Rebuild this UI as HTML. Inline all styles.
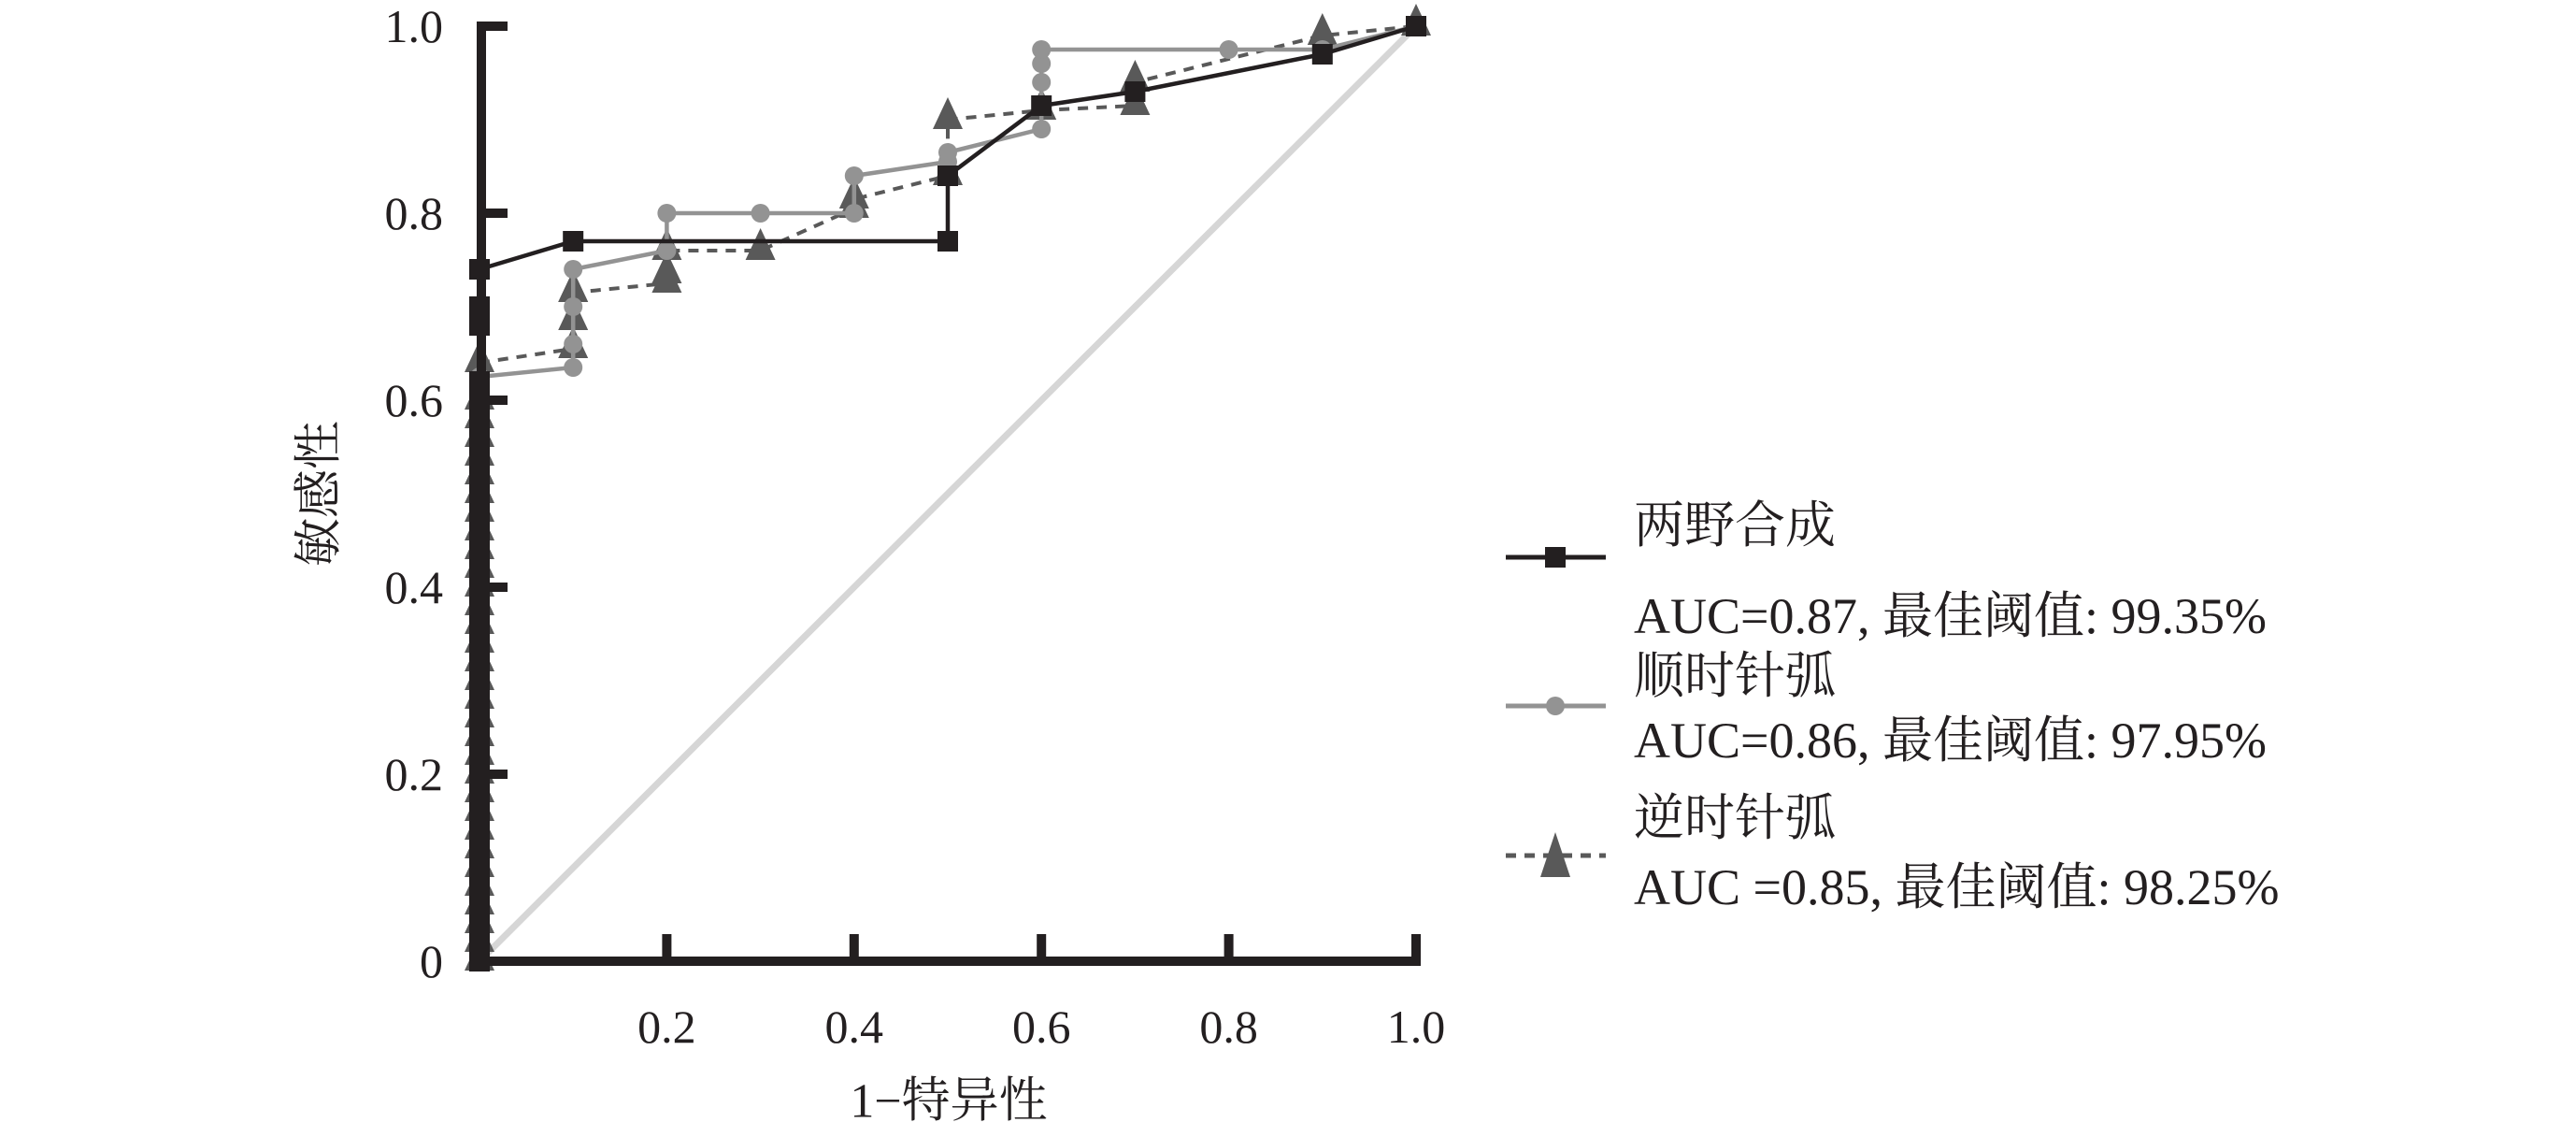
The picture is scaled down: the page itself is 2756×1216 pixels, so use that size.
<!DOCTYPE html>
<html><head><meta charset="utf-8"><style>
html,body{margin:0;padding:0;background:#fff;}
svg{display:block;}
text{font-family:"Liberation Serif","Noto Serif CJK SC",serif;fill:#231f20;}
</style></head><body>
<svg id="chart" width="2756" height="1216" viewBox="0 0 2756 1216" xmlns="http://www.w3.org/2000/svg">
<g id="plot"></g>
<g id="axes"></g>
<g id="legend">
  <line x1="1611" y1="596" x2="1718" y2="596" stroke="#231f20" stroke-width="5"/>
  <rect x="1653" y="585" width="22" height="22" fill="#231f20"/>
  <text x="1748" y="562" font-size="54" dominant-baseline="central">两野合成</text>
  <text x="1748" y="659" font-size="54" dominant-baseline="central">AUC=0.87, 最佳阈值: 99.35%</text>
  <line x1="1611" y1="755" x2="1718" y2="755" stroke="#939393" stroke-width="5"/>
  <circle cx="1664" cy="755" r="10" fill="#939393"/>
  <text x="1748" y="723" font-size="54" dominant-baseline="central">顺时针弧</text>
  <text x="1748" y="792" font-size="54" dominant-baseline="central">AUC=0.86, 最佳阈值: 97.95%</text>
  <line x1="1611" y1="915" x2="1718" y2="915" stroke="#595959" stroke-width="5" stroke-dasharray="11,9"/>
  <polygon points="1664,890 1680,938 1648,938" fill="#595959"/>
  <text x="1748" y="875" font-size="54" dominant-baseline="central">逆时针弧</text>
  <text x="1748" y="949" font-size="54" dominant-baseline="central">AUC =0.85, 最佳阈值: 98.25%</text>
</g>
</svg>
<script>
const xTicks = [0.2, 0.4, 0.6, 0.8, 1.0];
const xTickLabels = ["0.2", "0.4", "0.6", "0.8", "1.0"];
const yTicks = [0, 0.2, 0.4, 0.6, 0.8, 1.0];
const yTickLabels = ["0", "0.2", "0.4", "0.6", "0.8", "1.0"];
const stackY = [0,0.02,0.04,0.06,0.08,0.1,0.12,0.14,0.16,0.18,0.2,0.22,0.24,0.26,0.28,0.3,0.32,0.34,0.36,0.38,0.4,0.42,0.44,0.46,0.48,0.5,0.52,0.54,0.56,0.58,0.6];
const combinedX = [0,0,0,0,0,0.1,0.5,0.5,0.6,0.7,0.9,1.0];
const combinedY = [0.62,0.68,0.69,0.70,0.74,0.77,0.77,0.84,0.915,0.93,0.97,1.0];
const clockX = [0,0.1,0.1,0.1,0.1,0.2,0.2,0.3,0.4,0.4,0.5,0.5,0.6,0.6,0.6,0.6,0.8,0.9,1.0];
const clockY = [0.625,0.635,0.66,0.7,0.74,0.76,0.80,0.80,0.80,0.84,0.855,0.865,0.89,0.94,0.96,0.975,0.975,0.975,1.0];
const counterX = [0,0.1,0.1,0.1,0.1,0.2,0.2,0.2,0.3,0.4,0.4,0.5,0.5,0.6,0.7,0.7,0.9,1.0];
const counterY = [0.64,0.655,0.685,0.715,0.715,0.725,0.735,0.76,0.76,0.805,0.815,0.84,0.90,0.91,0.915,0.94,0.99,1.0];

const NS = "http://www.w3.org/2000/svg";
const X0 = 513, X1 = 1515, Y0 = 1028, Y1 = 28;
function sx(v){ return X0 + v * (X1 - X0); }
function sy(v){ return Y0 - v * (Y0 - Y1); }
const plot = document.getElementById('plot');
const axes = document.getElementById('axes');
function mk(tag, attrs, parent){
  const e = document.createElementNS(NS, tag);
  for (const k in attrs) e.setAttribute(k, attrs[k]);
  parent.appendChild(e);
  return e;
}

const diag = mk('line', {x1:sx(0), y1:sy(0), x2:sx(1), y2:sy(1), stroke:'#d6d6d6', 'stroke-width':7}, plot);



function series(name, xs, ys, color, width, dash, marker){
  const g = mk('g', {}, plot);
  
  
  const allX = stackY.map(() => 0).concat(xs);
  const allY = stackY.concat(ys);
  let d = '';
  allX.forEach((x, i) => { d += (i ? 'L' : 'M') + sx(x) + ',' + sy(allY[i]); });
  const p = mk('path', {d:d, fill:'none', stroke:color, 'stroke-width':width}, g);
  if (dash) p.setAttribute('stroke-dasharray', dash);
  
  
  allX.forEach((x, i) => {
    const cx = sx(x), cy = sy(allY[i]);
    let m;
    if (marker === 'square') m = mk('rect', {x:cx-11, y:cy-11, width:22, height:22, fill:color}, g);
    else if (marker === 'circle') m = mk('circle', {cx:cx, cy:cy, r:10, fill:color}, g);
    else m = mk('polygon', {points:(cx)+','+(cy-24)+' '+(cx+16)+','+(cy+10)+' '+(cx-16)+','+(cy+10), fill:color}, g);
    
    
  });
}
series('counterclockwise-series', counterX, counterY, '#595959', 4, '11,9', 'triangle');
series('clockwise-series', clockX, clockY, '#939393', 4.5, null, 'circle');
series('combined-series', combinedX, combinedY, '#231f20', 4.5, null, 'square');

const ya = mk('line', {x1:515, y1:Y1-5, x2:515, y2:Y0+5, stroke:'#231f20', 'stroke-width':10}, axes);


const xa = mk('line', {x1:510, y1:Y0, x2:X1+5, y2:Y0, stroke:'#231f20', 'stroke-width':10}, axes);


yTicks.forEach((v, i) => {
  if (v > 0) {
    const t = mk('line', {x1:515, y1:sy(v), x2:543, y2:sy(v), stroke:'#231f20', 'stroke-width':10}, axes);
    
    
  }
  const l = mk('text', {x:474, y:sy(v), 'font-size':50, 'text-anchor':'end', 'dominant-baseline':'central'}, axes);
  l.textContent = yTickLabels[i];
  
  
});
xTicks.forEach((v, i) => {
  const t = mk('line', {x1:sx(v), y1:Y0, x2:sx(v), y2:999, stroke:'#231f20', 'stroke-width':10}, axes);
  
  
  const l = mk('text', {x:sx(v), y:1098, 'font-size':50, 'text-anchor':'middle', 'dominant-baseline':'central'}, axes);
  l.textContent = xTickLabels[i];
  
  
});
const xt = mk('text', {x:1015, y:1178, 'font-size':52, 'text-anchor':'middle', 'dominant-baseline':'central'}, axes);
xt.textContent = '1−特异性';


const yt = mk('text', {x:0, y:0, 'font-size':52, 'text-anchor':'middle', 'dominant-baseline':'central', transform:'translate(342,528) rotate(-90)'}, axes);
yt.textContent = '敏感性';


</script>
</body></html>
